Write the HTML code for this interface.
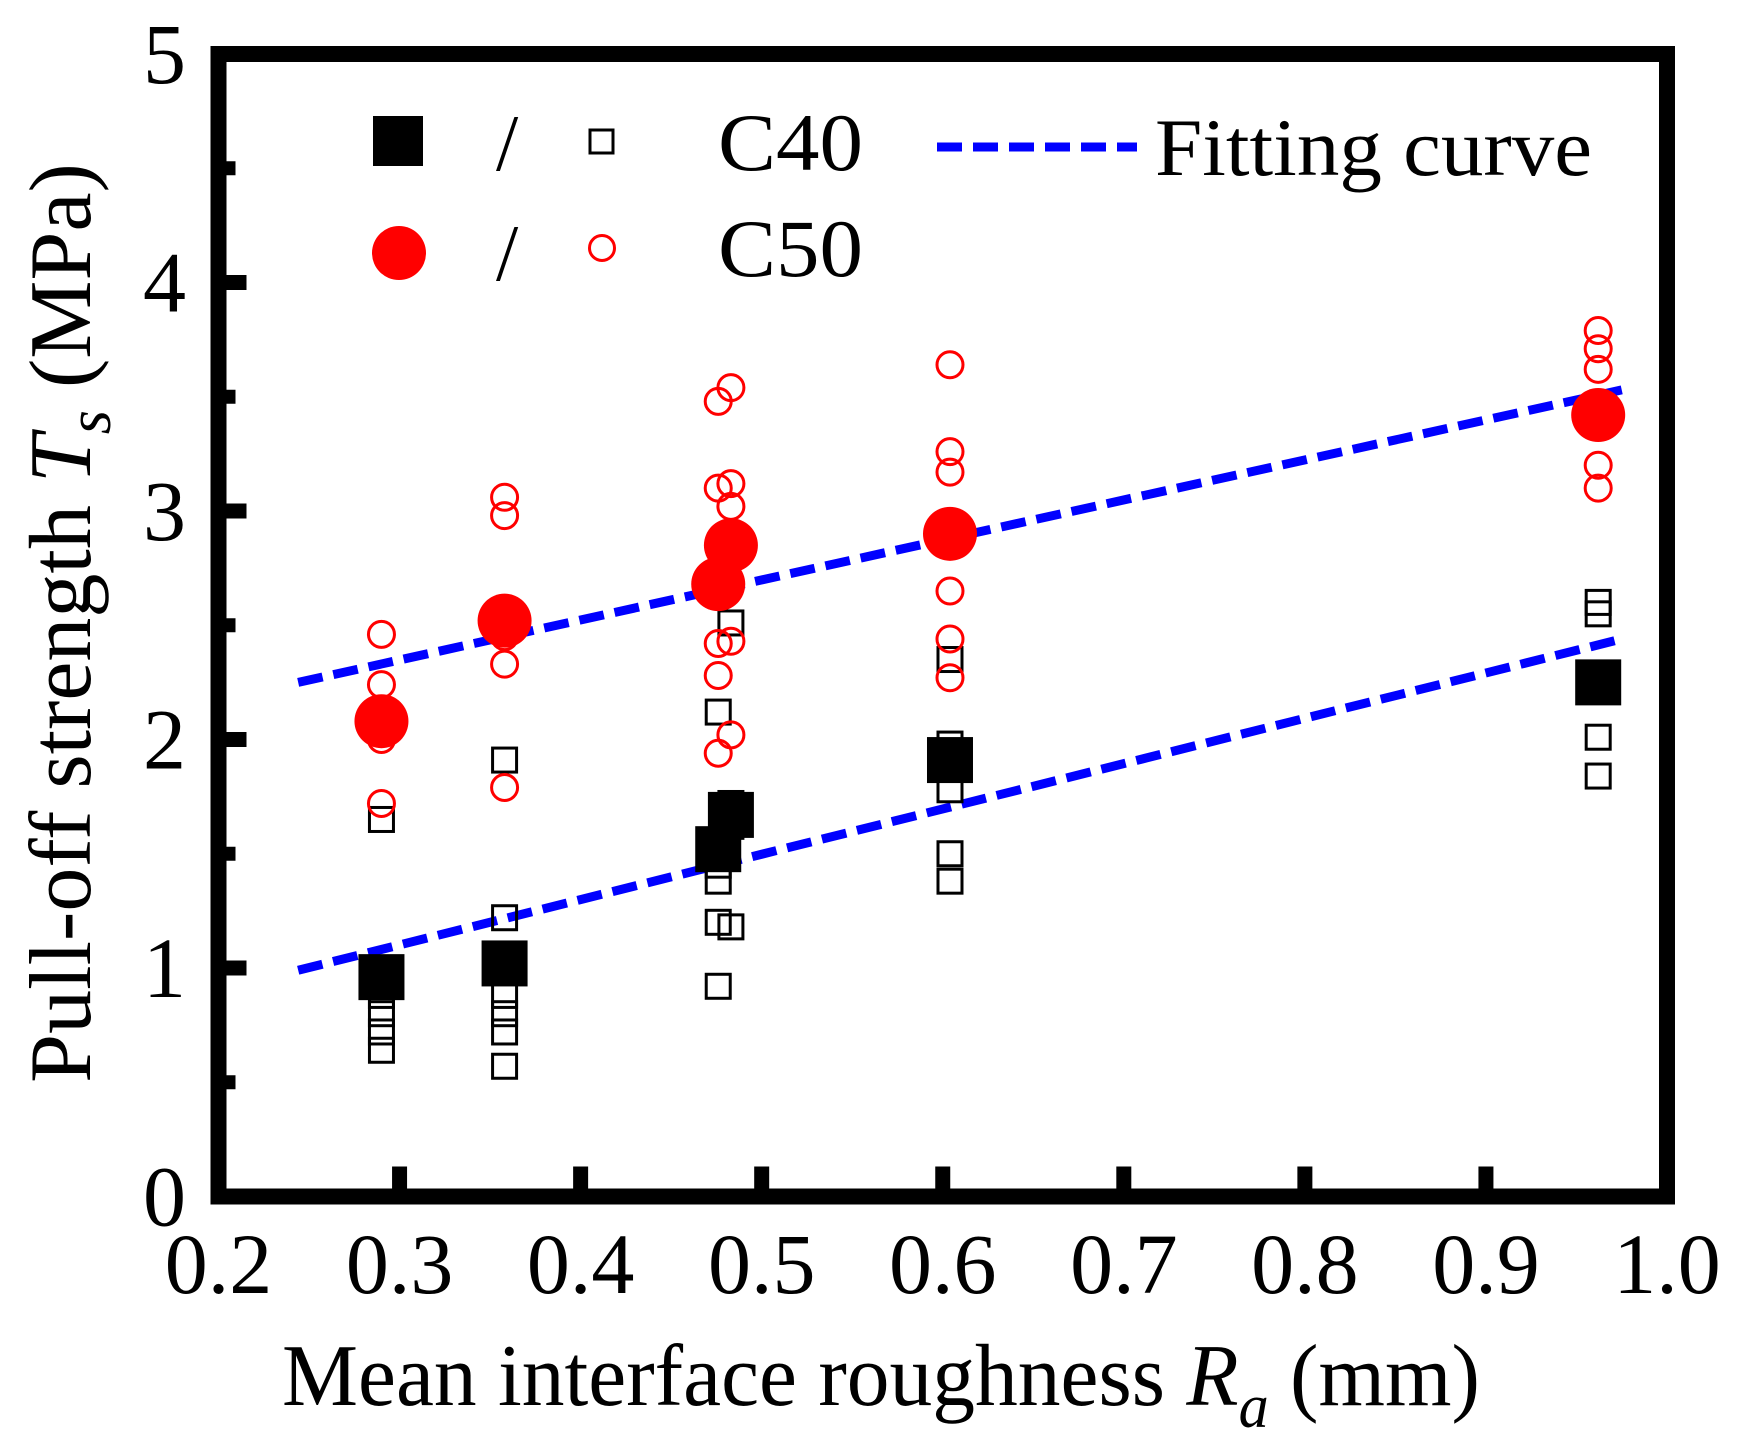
<!DOCTYPE html>
<html><head><meta charset="utf-8"><style>
html,body{margin:0;padding:0;background:#fff;}
svg{display:block;font-family:"Liberation Serif","DejaVu Serif",serif;}
</style></head><body>
<svg id="chart" width="1744" height="1449" viewBox="0 0 1744 1449" xmlns="http://www.w3.org/2000/svg">
<rect x="0" y="0" width="1744" height="1449" fill="#fff"/>
<g id="marks"></g>
<rect x="218.5" y="54" width="1448.5" height="1142.5" fill="none" stroke="#000" stroke-width="16"/>
<g id="axes"></g>
<text x="282" y="1405" font-size="88" fill="#000" textLength="1198" lengthAdjust="spacingAndGlyphs">Mean interface roughness <tspan font-style="italic">R</tspan><tspan font-style="italic" font-size="62" dy="22">a</tspan><tspan dy="-22"> (mm)</tspan></text>
<text transform="translate(90,623) rotate(-90)" text-anchor="middle" font-size="88" fill="#000">Pull-off strength <tspan font-style="italic">T</tspan><tspan font-style="italic" font-size="62" dy="20">s</tspan><tspan dy="-20"> (MPa)</tspan></text>
<g>
  <rect x="373" y="116" width="50" height="50" fill="#000"/>
  <text x="496" y="170" font-size="80">/</text>
  <rect x="590" y="130" width="23" height="23" fill="none" stroke="#000" stroke-width="3"/>
  <text x="718" y="170" font-size="82" textLength="145" lengthAdjust="spacingAndGlyphs">C40</text>
  <circle cx="399" cy="253" r="27" fill="#ff0000"/>
  <text x="496" y="280" font-size="80">/</text>
  <circle cx="602" cy="248" r="12.5" fill="none" stroke="#ff0000" stroke-width="3"/>
  <text x="718" y="276" font-size="82" textLength="145" lengthAdjust="spacingAndGlyphs">C50</text>
  <line x1="937" y1="147" x2="1137" y2="147" stroke="#0000ff" stroke-width="9" stroke-dasharray="25,11"/>
  <text x="1155" y="175" font-size="82" textLength="437" lengthAdjust="spacingAndGlyphs">Fitting curve</text>
</g>
</svg>
<script>
const xTicks = [0.2,0.3,0.4,0.5,0.6,0.7,0.8,0.9,1.0];
const xTickLabels = ["0.2","0.3","0.4","0.5","0.6","0.7","0.8","0.9","1.0"];
const yTicks = [0,1,2,3,4,5];
const yTickLabels = ["0","1","2","3","4","5"];
const yMinorTicks = [0.5,1.5,2.5,3.5,4.5];
const groupX = [0.29,0.358,0.476,0.483,0.604,0.962];
const c40Mean = [0.96,1.02,1.52,1.67,1.91,2.25];
const c50Mean = [2.08,2.52,2.68,2.85,2.90,3.42];
const c40Samples = [
  [1.65,0.88,0.80,0.72,0.64],
  [1.91,1.22,0.88,0.80,0.72,0.57],
  [2.12,1.45,1.38,1.20,0.92],
  [2.51,1.72,1.62,1.18],
  [2.35,1.98,1.78,1.50,1.38],
  [2.60,2.55,2.01,1.84]
];
const c50Samples = [
  [2.46,2.24,2.00,1.72],
  [3.06,2.98,2.45,2.33,1.79],
  [3.48,3.10,2.42,2.28,1.94],
  [3.54,3.12,3.02,2.43,2.02],
  [3.64,3.26,3.17,2.65,2.44,2.27],
  [3.79,3.71,3.62,3.20,3.10]
];
const fitX = [0.244,0.975];
const fitC50 = [2.25,3.53];
const fitC40 = [0.99,2.44];

const NS="http://www.w3.org/2000/svg";
const X0=218.5,X1=1667,Y0=1196.5,Y1=54;
function sx(v){return X0+(v-0.2)/0.8*(X1-X0);}
function sy(v){return Y0-(v/5)*(Y0-Y1);}
function mk(tag,attrs,parent){const e=document.createElementNS(NS,tag);for(const k in attrs)e.setAttribute(k,attrs[k]);parent.appendChild(e);return e;}
const axes=document.getElementById('axes');
const marks=document.getElementById('marks');

xTicks.forEach((v,i)=>{
  if(i>0&&i<xTicks.length-1){
    const t=mk('line',{x1:sx(v),x2:sx(v),y1:Y0,y2:Y0-30,stroke:'#000','stroke-width':15},axes);
    
    
  }
  const l=mk('text',{x:sx(v),y:1293,'text-anchor':'middle','font-size':86},axes);
  l.textContent=xTickLabels[i];
  
  
});
yTicks.forEach((v,i)=>{
  if(i>0&&i<yTicks.length-1){
    const t=mk('line',{x1:X0,x2:X0+28,y1:sy(v),y2:sy(v),stroke:'#000','stroke-width':15},axes);
    
    
  }
  const l=mk('text',{x:186,y:sy(v)+29,'text-anchor':'end','font-size':86},axes);
  l.textContent=yTickLabels[i];
  
  
});
yMinorTicks.forEach(v=>{
  const t=mk('line',{x1:X0,x2:X0+17,y1:sy(v),y2:sy(v),stroke:'#000','stroke-width':14},axes);
  
  
});

[fitC50,fitC40].forEach((f,k)=>{
  const ln=mk('line',{x1:sx(fitX[0]),y1:sy(f[0]),x2:sx(fitX[1]),y2:sy(f[1]),stroke:'#0000ff','stroke-width':9,'stroke-dasharray':'25,11'},marks);
  
  
});
c40Samples.forEach((arr,g)=>arr.forEach(v=>{
  const r=mk('rect',{x:sx(groupX[g])-12,y:sy(v)-12,width:24,height:24,fill:'none',stroke:'#000','stroke-width':3},marks);
  
  
}));
c50Samples.forEach((arr,g)=>arr.forEach(v=>{
  const c=mk('circle',{cx:sx(groupX[g]),cy:sy(v),r:13,fill:'none',stroke:'#ff0000','stroke-width':3},marks);
  
  
}));
c40Mean.forEach((v,g)=>{
  const r=mk('rect',{x:sx(groupX[g])-23,y:sy(v)-23,width:46,height:46,fill:'#000'},marks);
  
  
});
c50Mean.forEach((v,g)=>{
  const c=mk('circle',{cx:sx(groupX[g]),cy:sy(v),r:27,fill:'#ff0000'},marks);
  
  
});
</script>
</body></html>
